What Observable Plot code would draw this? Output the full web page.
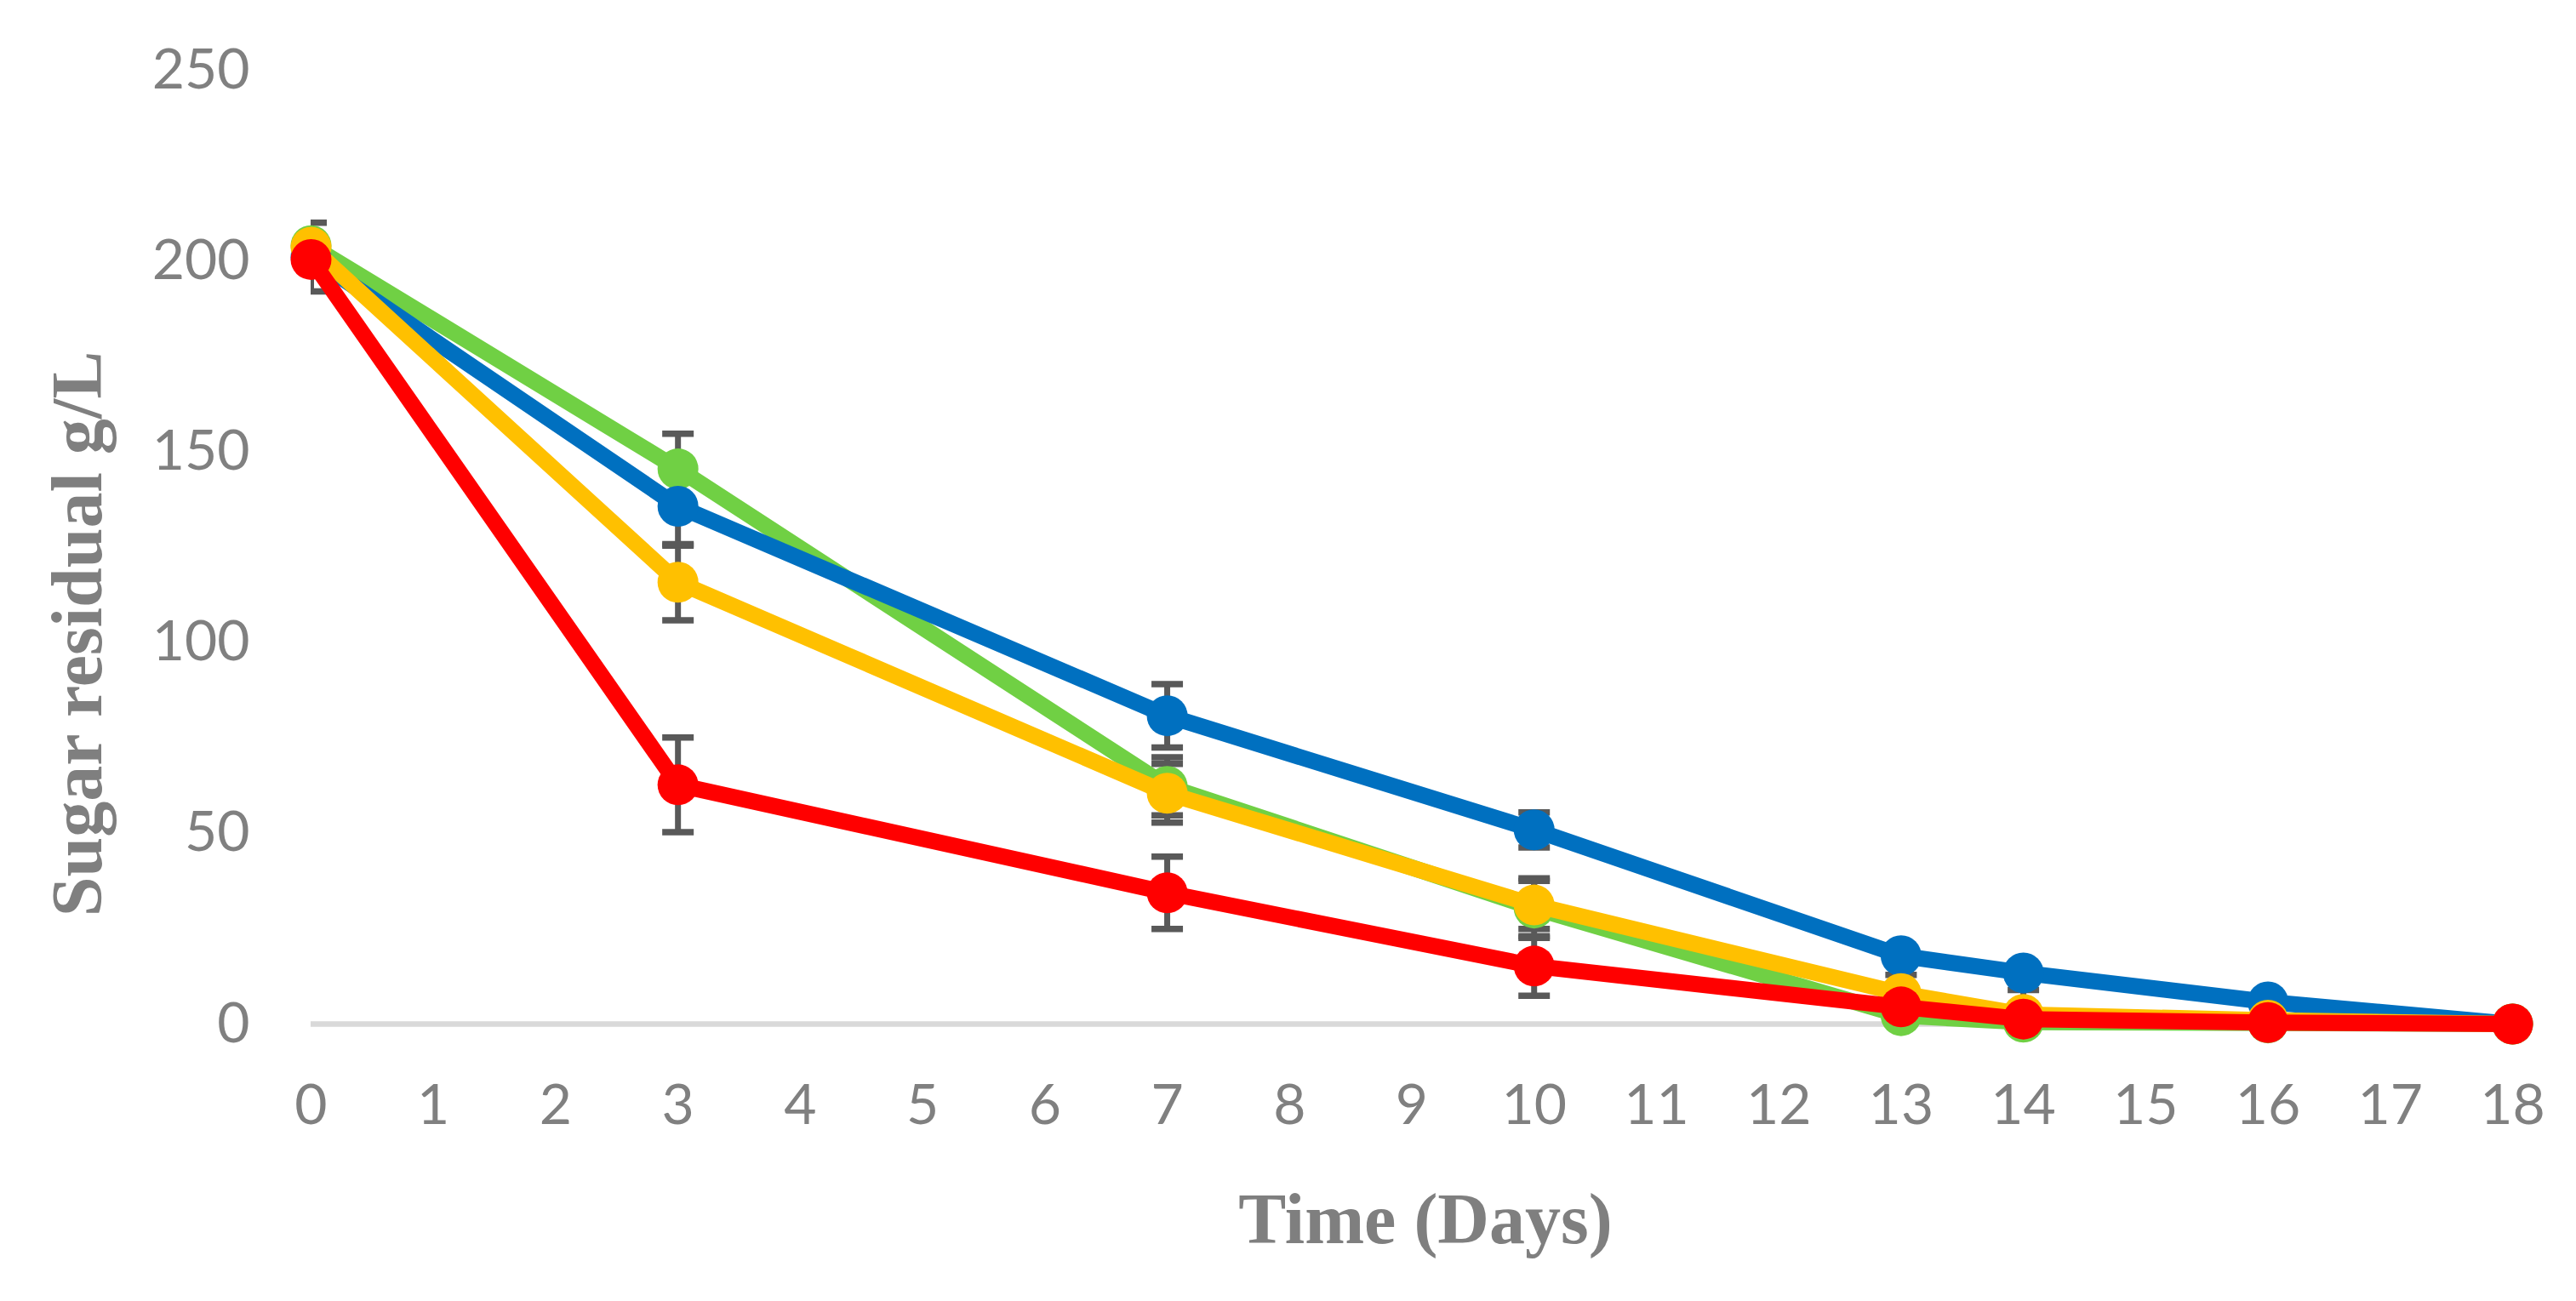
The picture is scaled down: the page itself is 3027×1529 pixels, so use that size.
<!DOCTYPE html>
<html>
<head>
<meta charset="utf-8">
<script src="https://cdn.jsdelivr.net/npm/d3@7"></script>
<script src="https://cdn.jsdelivr.net/npm/@observablehq/plot@0.6"></script>
<style>
  html, body { margin: 0; padding: 0; background: #fff; }
  #chart svg { display: block; }
</style>
</head>
<body>
<div id="chart"></div>
<script>
// ---- data ----
const days = [0, 3, 7, 10, 13, 14, 16, 18];
const xTicks = [0,1,2,3,4,5,6,7,8,9,10,11,12,13,14,15,16,17,18];
const yTicks = [0, 50, 100, 150, 200, 250];

const greenValues  = [204.0, 145.5, 62.3, 30.4, 2.2, 0.5, 0.3, 0];
const blueValues   = [201.0, 135.7, 80.8, 50.9, 17.9, 13.4, 5.8, 0];
const yellowValues = [203.6, 115.8, 60.5, 31.2, 8.0, 2.5, 1.0, 0];
const redValues    = [200.4, 62.7, 34.4, 15.2, 4.5, 1.3, 0.4, 0];

const greenErr  = [0, 9.2, 7.6, 7.8, 0, 0, 0, 0];
const blueErr   = [9.0, 10.3, 8.3, 4.6, 0, 0, 0, 0];
const yellowErr = [0, 10.0, 7.7, 6.3, 4.9, 6.4, 0, 0];
const redErr    = [0, 12.4, 9.5, 7.8, 0, 0, 0, 0];

const seriesNames  = ["green", "blue", "yellow", "red"];
const seriesColors = ["#70D044", "#0070C0", "#FFC000", "#FF0000"];
const seriesValues = [greenValues, blueValues, yellowValues, redValues];
const seriesErrors = [greenErr, blueErr, yellowErr, redErr];

const xTitle = "Time (Days)";
const yTitle = "Sugar residual g/L";

// ---- tables built from the arrays ----
const series = seriesNames.map((name, i) => ({
  name,
  color: seriesColors[i],
  rows: days.map((d, j) => ({day: d, v: seriesValues[i][j], e: seriesErrors[i][j]}))
}));
const errRows = series.flatMap(s => s.rows.filter(r => r.e > 0)
  .map(r => ({day: r.day, lo: r.v - r.e, hi: r.v + r.e})));
const capRows = errRows.flatMap(r => [{day: r.day, v: r.lo}, {day: r.day, v: r.hi}]);

const capSymbol = {
  draw(context) {
    context.moveTo(-18.5, 0);
    context.lineTo(18.5, 0);
  }
};

const marks = [
  Plot.ruleY([0], {stroke: "#D9D9D9", strokeWidth: 6.5}),
  Plot.ruleX(errRows, {x: "day", y1: "lo", y2: "hi", stroke: "#595959", strokeWidth: 7, clip: true}),
  Plot.dot(capRows, {x: "day", y: "v", symbol: capSymbol, r: 5, fill: "none", stroke: "#595959", strokeWidth: 7.5, clip: true}),
];
for (const s of series) {
  marks.push(Plot.line(s.rows, {x: "day", y: "v", stroke: s.color, strokeWidth: 19, strokeLinejoin: "round", strokeLinecap: "round"}));
  marks.push(Plot.dot(s.rows, {x: "day", y: "v", r: 24, fill: s.color, stroke: "none"}));
}
marks.push(
  Plot.axisX({ticks: xTicks, tickSize: 0, tickPadding: 71, tickFormat: d => String(d), label: null}),
  Plot.axisY({ticks: yTicks, tickSize: 0, tickPadding: 72, tickFormat: d => String(d), label: null}),
  Plot.text([xTitle], {frameAnchor: "bottom", textAnchor: "middle", lineAnchor: "middle", dx: 16, dy: 231, fontFamily: "Liberation Serif", fontWeight: "bold", fontSize: 84, fill: "#7F7F7F"}),
  Plot.text([yTitle], {frameAnchor: "left", textAnchor: "middle", lineAnchor: "middle", rotate: -90, dx: -273, dy: 102, fontFamily: "Liberation Serif", fontWeight: "bold", fontSize: 84, fill: "#7F7F7F"})
);

const chart = Plot.plot({
  width: 3027,
  height: 1529,
  marginLeft: 365,
  marginRight: 75,
  marginTop: 82,
  marginBottom: 326,
  x: {domain: [0, 18], label: null},
  y: {domain: [0, 250], label: null},
  style: {fontFamily: "Lato", fontSize: "66px", color: "#808080", background: "#fff", overflow: "visible"},
  marks
});
document.getElementById("chart").appendChild(chart);
</script>
</body>
</html>
